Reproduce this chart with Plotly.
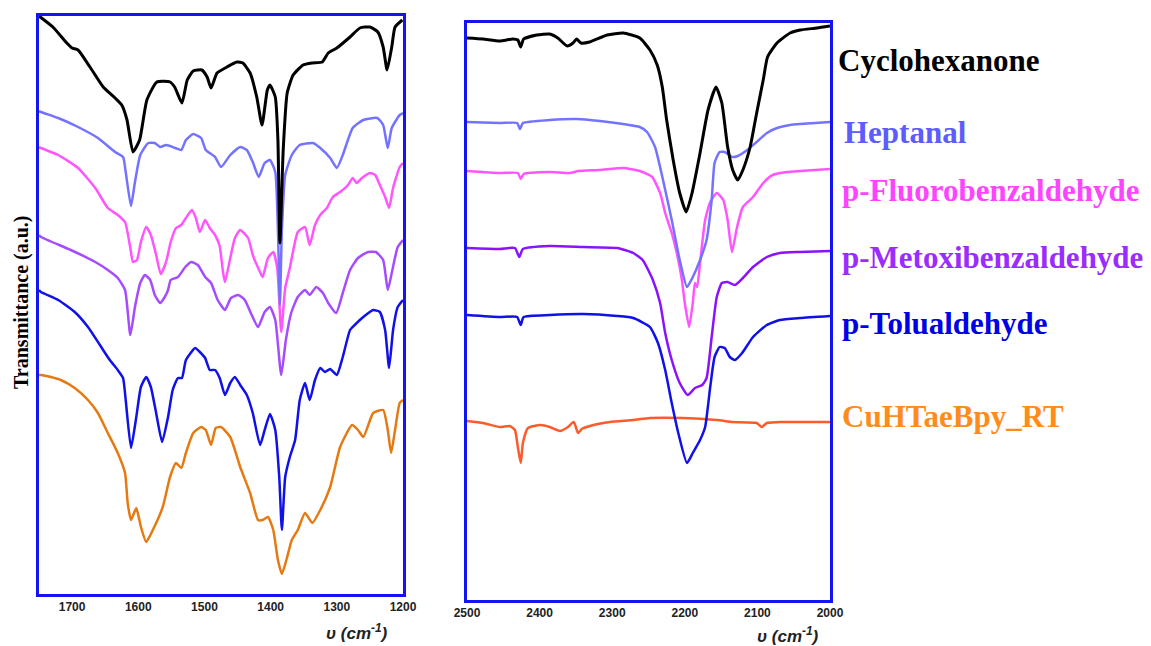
import plotly.graph_objects as go

# ---------------- LEFT PANEL (1750-1200 cm-1) ----------------
cyc_l_wn = [1750,1729,1708,1700,1691,1673,1653,1635,1625,1617,1608,1598,1587,1572,1552,1545,1534,1526,1517,1504,1496,1490,1481,1466,1451,1442,1431,1421,1413,1405,1401,1393,1389,1386,1381,1375,1366,1351,1337,1322,1313,1300,1280,1265,1250,1238,1230,1224,1217,1212,1201]
cyc_l_T = [578,567,551,546,544,527,507,496,489,474,442,454,494,512,512,507,491,514,523,524,517,506,521,527,532,531,521,497,469,504,509,497,454,351,444,501,519,529,531,532,541,546,557,566,567,562,547,524,547,567,574]

hep_l_wn = [1750,1747,1721,1691,1661,1635,1623,1619,1611,1605,1597,1585,1575,1567,1558,1544,1535,1528,1517,1505,1498,1484,1475,1461,1446,1436,1427,1418,1409,1401,1393,1389,1386,1383,1378,1368,1356,1336,1325,1310,1300,1291,1276,1260,1239,1230,1223,1217,1205,1200]
hep_l_T = [483,482,476,467,456,442,437,422,388,412,439,451,451,447,449,446,444,454,460,456,444,437,427,439,447,444,432,417,431,434,422,364,289,364,419,439,449,451,446,436,426,439,466,474,476,469,446,466,479,481]

flu_l_wn = [1750,1747,1721,1691,1665,1646,1631,1620,1612,1608,1602,1596,1588,1581,1573,1566,1558,1551,1543,1535,1528,1519,1513,1507,1499,1492,1484,1477,1472,1469,1461,1454,1446,1434,1427,1416,1412,1404,1396,1390,1384,1378,1371,1359,1348,1341,1333,1325,1315,1306,1295,1283,1276,1270,1262,1250,1242,1235,1227,1221,1215,1205,1200]
flu_l_T = [447,446,439,426,406,386,379,372,346,332,334,352,367,359,339,320,332,352,366,369,376,384,376,362,374,366,359,348,322,312,336,356,364,356,339,322,317,336,342,326,262,306,326,362,367,349,369,379,386,397,402,409,416,411,416,421,419,409,397,386,406,427,431]

met_l_wn = [1750,1747,1702,1665,1646,1631,1620,1612,1605,1597,1590,1582,1575,1567,1560,1555,1551,1540,1529,1520,1510,1499,1490,1480,1469,1460,1449,1439,1430,1419,1409,1401,1393,1384,1377,1369,1359,1348,1341,1331,1321,1313,1301,1291,1280,1268,1253,1241,1230,1223,1217,1208,1200]
met_l_T = [359,357,344,332,324,316,304,259,287,311,319,314,299,291,297,304,314,317,327,332,329,317,311,294,284,296,299,294,281,267,282,287,274,219,254,281,297,304,299,307,301,291,281,301,324,336,342,342,334,304,321,347,354]

tol_l_wn = [1750,1747,1721,1696,1676,1658,1643,1631,1623,1619,1611,1603,1596,1588,1581,1573,1564,1555,1548,1540,1534,1528,1514,1507,1499,1492,1484,1477,1469,1461,1454,1446,1436,1427,1416,1409,1401,1393,1387,1383,1378,1371,1363,1356,1348,1341,1333,1325,1318,1310,1300,1291,1280,1273,1260,1245,1235,1227,1221,1215,1208,1200]
tol_l_T = [304,302,294,282,267,249,234,224,216,194,146,177,207,217,207,181,152,177,204,216,216,234,246,242,236,224,224,216,199,211,217,209,199,181,149,164,180,164,117,64,117,137,154,194,211,194,214,226,222,225,219,237,264,269,277,284,282,264,226,264,287,294]

cu_l_wn = [1750,1747,1732,1717,1696,1676,1661,1646,1631,1620,1616,1611,1603,1596,1588,1578,1563,1552,1543,1535,1528,1517,1505,1498,1490,1483,1475,1461,1446,1431,1419,1412,1404,1396,1389,1383,1375,1368,1359,1348,1337,1325,1310,1295,1277,1268,1260,1245,1230,1223,1218,1212,1205,1200]
cu_l_T = [219,219,217,214,206,194,181,161,141,121,91,74,86,67,52,64,87,117,131,126,141,161,167,164,149,166,167,157,127,101,74,74,77,64,34,20,37,54,64,81,71,84,107,147,169,164,157,181,184,164,141,164,191,194]

# ---------------- RIGHT PANEL (2500-2000 cm-1) ----------------
cyc_r_wn = [2500,2478,2455,2437,2430,2426,2422,2404,2386,2375,2362,2354,2349,2343,2331,2307,2285,2262,2248,2238,2231,2225,2216,2207,2198,2190,2179,2168,2157,2149,2141,2134,2127,2120,2110,2101,2092,2086,2073,2055,2041,2018,2000]
cyc_r_T = [562,561,559,561,560,553,561,565,566,562,554,557,561,557,558,565,567,562,550,535,513,480,440,407,388,407,447,490,513,497,453,430,420,430,453,487,520,543,557,567,570,572,574]

hep_r_wn = [2500,2455,2431,2427,2423,2386,2349,2317,2285,2262,2252,2241,2230,2218,2207,2197,2189,2179,2170,2163,2159,2152,2145,2135,2127,2114,2101,2087,2073,2055,2041,2000]
hep_r_T = [478,477,477,471,477,480,481,479,476,473,468,453,420,380,340,313,323,340,360,400,437,448,448,443,444,450,458,467,472,475,476,478]

flu_r_wn = [2500,2455,2430,2426,2422,2386,2358,2347,2317,2285,2262,2245,2234,2227,2223,2218,2211,2204,2200,2194,2189,2186,2183,2179,2172,2165,2156,2147,2141,2135,2128,2120,2106,2092,2079,2059,2041,2000]
flu_r_T = [429,427,427,421,426,428,427,429,430,432,429,423,407,387,378,367,347,320,297,273,297,317,313,337,380,398,407,400,380,348,373,393,403,417,425,428,429,431]

met_r_wn = [2500,2455,2434,2428,2423,2386,2340,2293,2271,2258,2244,2234,2227,2218,2207,2196,2186,2176,2170,2163,2156,2149,2141,2131,2120,2106,2087,2069,2041,2000]
met_r_T = [352,351,352,343,351,354,353,352,347,340,320,297,267,240,217,205,212,215,222,263,303,317,318,315,322,333,343,347,348,349]

tol_r_wn = [2500,2455,2431,2426,2422,2386,2340,2293,2271,2248,2237,2227,2218,2209,2197,2189,2179,2172,2165,2159,2152,2145,2138,2131,2121,2106,2087,2069,2041,2000]
tol_r_T = [285,283,283,275,283,285,286,284,282,273,257,230,197,167,137,147,160,173,213,243,253,252,243,240,247,263,275,280,282,284]

cu_r_wn = [2500,2478,2455,2441,2434,2430,2426,2423,2416,2399,2386,2372,2361,2353,2347,2342,2326,2303,2271,2248,2203,2156,2134,2101,2094,2087,2065,2000]
cu_r_T = [179,177,173,174,170,153,137,157,172,175,173,169,173,178,167,171,175,178,180,182,182,180,178,177,173,177,178,178]

# ---------------- labels / ticks ----------------
names = ["Cyclohexanone", "Heptanal", "p-Fluorobenzaldehyde", "p-Metoxibenzaldehyde", "p-Tolualdehyde", "CuHTaeBpy_RT"]
label_colors = ["#000000", "#5c5cff", "#ff44ff", "#9a2cff", "#0000e6", "#ff8c1a"]
left_colors = ["#000000", "#7373ff", "#ff55ff", "#a54cff", "#1010e8", "#e57a12"]
right_colors = ["#000000", "#7373ff", "#ff55ff", "#8a12ff", "#1010e8", "#ff5a2a"]
left_ticks = [1700, 1600, 1500, 1400, 1300, 1200]
right_ticks = [2500, 2400, 2300, 2200, 2100, 2000]

left_data = [(cyc_l_wn, cyc_l_T), (hep_l_wn, hep_l_T), (flu_l_wn, flu_l_T),
             (met_l_wn, met_l_T), (tol_l_wn, tol_l_T), (cu_l_wn, cu_l_T)]
right_data = [(cyc_r_wn, cyc_r_T), (hep_r_wn, hep_r_T), (flu_r_wn, flu_r_T),
              (met_r_wn, met_r_T), (tol_r_wn, tol_r_T), (cu_r_wn, cu_r_T)]

W, H = 1151, 646
fig = go.Figure()

# draw from bottom series to top so the black spectrum is on top
for i in reversed(range(6)):
    wn, t = left_data[i]
    fig.add_trace(go.Scatter(x=wn, y=t, mode="lines", xaxis="x", yaxis="y",
                             line=dict(color=left_colors[i], width=3 if i == 0 else 2.5,
                                       shape="spline", smoothing=0.5),
                             showlegend=False, hoverinfo="skip"))
for i in reversed(range(6)):
    wn, t = right_data[i]
    fig.add_trace(go.Scatter(x=wn, y=t, mode="lines", xaxis="x2", yaxis="y2",
                             line=dict(color=right_colors[i], width=3 if i == 0 else 2.5,
                                       shape="spline", smoothing=0.5),
                             showlegend=False, hoverinfo="skip"))

axis_blue = "#1414f0"
common_x = dict(showline=True, linecolor=axis_blue, linewidth=2.5, mirror=True,
                showgrid=False, zeroline=False, ticks="", automargin=False,
                tickfont=dict(family="Liberation Sans, Arial", size=12, color="#222222", weight="bold"))
common_y = dict(showline=True, linecolor=axis_blue, linewidth=2.5, mirror=True,
                showgrid=False, zeroline=False, showticklabels=False, ticks="", automargin=False)

fig.update_layout(
    width=W, height=H,
    margin=dict(l=0, r=0, t=0, b=0, pad=0, autoexpand=False),
    paper_bgcolor="white", plot_bgcolor="white",
    xaxis=dict(domain=[39 / W, 403 / W], range=[1750, 1200], tickvals=left_ticks,
               ticktext=[str(v) for v in left_ticks], anchor="y", **common_x),
    yaxis=dict(domain=[52 / H, 630 / H], range=[0, 578], anchor="x", **common_y),
    xaxis2=dict(domain=[467 / W, 830 / W], range=[2500, 2000], tickvals=right_ticks,
                ticktext=[str(v) for v in right_ticks], anchor="y2", **common_x),
    yaxis2=dict(domain=[46 / H, 623 / H], range=[0, 577], anchor="x2", **common_y),
)

annotations = []
# series labels
label_px = [(836, 61), (842, 132), (840, 190), (840, 258), (840, 323), (840, 416)]
for (px, py), name, col in zip(label_px, names, label_colors):
    annotations.append(dict(x=px / W, y=1 - py / H, xref="paper", yref="paper",
                            xanchor="left", yanchor="middle", showarrow=False,
                            text="<b>" + name + "</b>",
                            font=dict(family="Liberation Serif, Times New Roman", size=31, color=col)))
# axis titles
xt = "<b><i>\u03c5 (cm<sup>-1</sup>)</i></b>"
annotations.append(dict(x=357 / W, y=1 - 632 / H, xref="paper", yref="paper", showarrow=False,
                        text=xt, xanchor="center", yanchor="middle",
                        font=dict(family="Liberation Sans, Arial", size=17, color="#222222")))
annotations.append(dict(x=788 / W, y=1 - 635 / H, xref="paper", yref="paper", showarrow=False,
                        text=xt, xanchor="center", yanchor="middle",
                        font=dict(family="Liberation Sans, Arial", size=17, color="#222222")))
annotations.append(dict(x=21 / W, y=1 - 302 / H, xref="paper", yref="paper", showarrow=False,
                        text="<b>Transmittance (a.u.)</b>", textangle=-90,
                        xanchor="center", yanchor="middle",
                        font=dict(family="Liberation Serif, Times New Roman", size=20, color="#000000")))
fig.update_layout(annotations=annotations)

fig.write_html("out.html")
